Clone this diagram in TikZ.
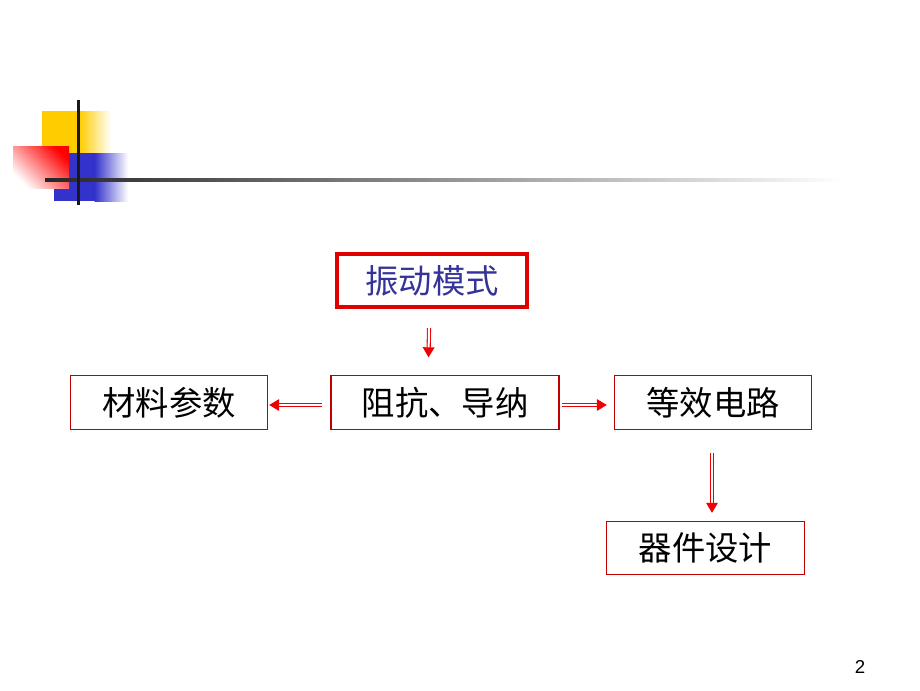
\documentclass[tikz,border=0pt]{standalone}
\usepackage{fontspec}
\setmainfont{Liberation Sans}
\newfontfamily\cjk{Noto Sans CJK SC}[Scale=1]
\usetikzlibrary{arrows.meta,calc}
\definecolor{boxred}{RGB}{192,0,0}
\definecolor{topred}{RGB}{224,0,0}
\definecolor{arrred}{RGB}{240,0,0}
\definecolor{navy}{RGB}{51,51,153}
\definecolor{yel}{RGB}{255,204,0}
\definecolor{blu}{RGB}{51,51,204}
\tikzset{
  box/.style={draw=boxred, line width=0.8pt, minimum width=150pt, minimum height=40pt, inner sep=0pt, font=\cjk\fontsize{25}{25}\selectfont},
  topbox/.style={draw=topred, line width=3pt, minimum width=142pt, minimum height=40pt, inner sep=0pt, text=navy, font=\cjk\fontsize{25}{25}\selectfont},
  shaft/.style={draw=arrred, double=white, double distance=1.5pt, line width=0.8pt, shorten >=7pt},
  tip/.style={draw=none, fill=arrred}
}
\newcommand{\dblarr}[2]{%
  \draw[shaft] (#1) -- (#2);
  \fill[tip] (#2) -- ($(#2)!7.5pt!(#1)!4.5pt!90:(#1)$) -- ($(#2)!7.5pt!(#1)!4.5pt!-90:(#1)$) -- cycle;}
\begin{document}
\begin{tikzpicture}[x=0.75pt,y=-0.75pt]
\useasboundingbox (0,0) rectangle (920,690);
% decoration
\fill[yel] (42,111) rectangle (80,153);
\shade[left color=yel, right color=white] (79.5,111) rectangle (111,153);
\fill[blu] (54,153) rectangle (95,201);
\shade[left color=blu, right color=white] (94.5,153) rectangle (128,201);
\shade[top color=red, bottom color=white, shading angle=-45] (13,146) rectangle (69,188);
\shade[left color=black!85, right color=white] (45,178.5) rectangle (845,181.5);
\fill[black!90] (76.5,100) rectangle (79.5,205);
% nodes
\node[topbox, minimum width=142pt] (mode) at (432,280.5) {振动模式};
\node[box, minimum width=148pt] (mat) at (169,402.5) {材料参数};
\node[box, minimum width=171pt] (imp) at (445,402.5) {阻抗、导纳};
\node[box, minimum width=148pt] (eq) at (713,402.5) {等效电路};
\node[box, minimum width=148pt] (dev) at (705.5,548) {器件设计};
% connectors
\coordinate (a1s) at ($(mode.south)+(-3,19)$);
\coordinate (a1e) at ($(imp.north)+(-16.5,-18)$);
\coordinate (a2s) at ($(imp.west)+(-8,2.5)$);
\coordinate (a2e) at ($(mat.east)+(1,2.5)$);
\coordinate (a3s) at ($(imp.east)+(2,2.5)$);
\coordinate (a3e) at ($(eq.west)+(-7,2.5)$);
\coordinate (a4s) at ($(eq.south)+(-1,23)$);
\coordinate (a4e) at ($(dev.north -| a4s)+(0,-8)$);
\dblarr{a1s}{a1e}
\dblarr{a2s}{a2e}
\dblarr{a3s}{a3e}
\dblarr{a4s}{a4e}
\node[font=\fontsize{14}{14}\selectfont] (pg) at (860,667) {2};
\end{tikzpicture}
\end{document}
